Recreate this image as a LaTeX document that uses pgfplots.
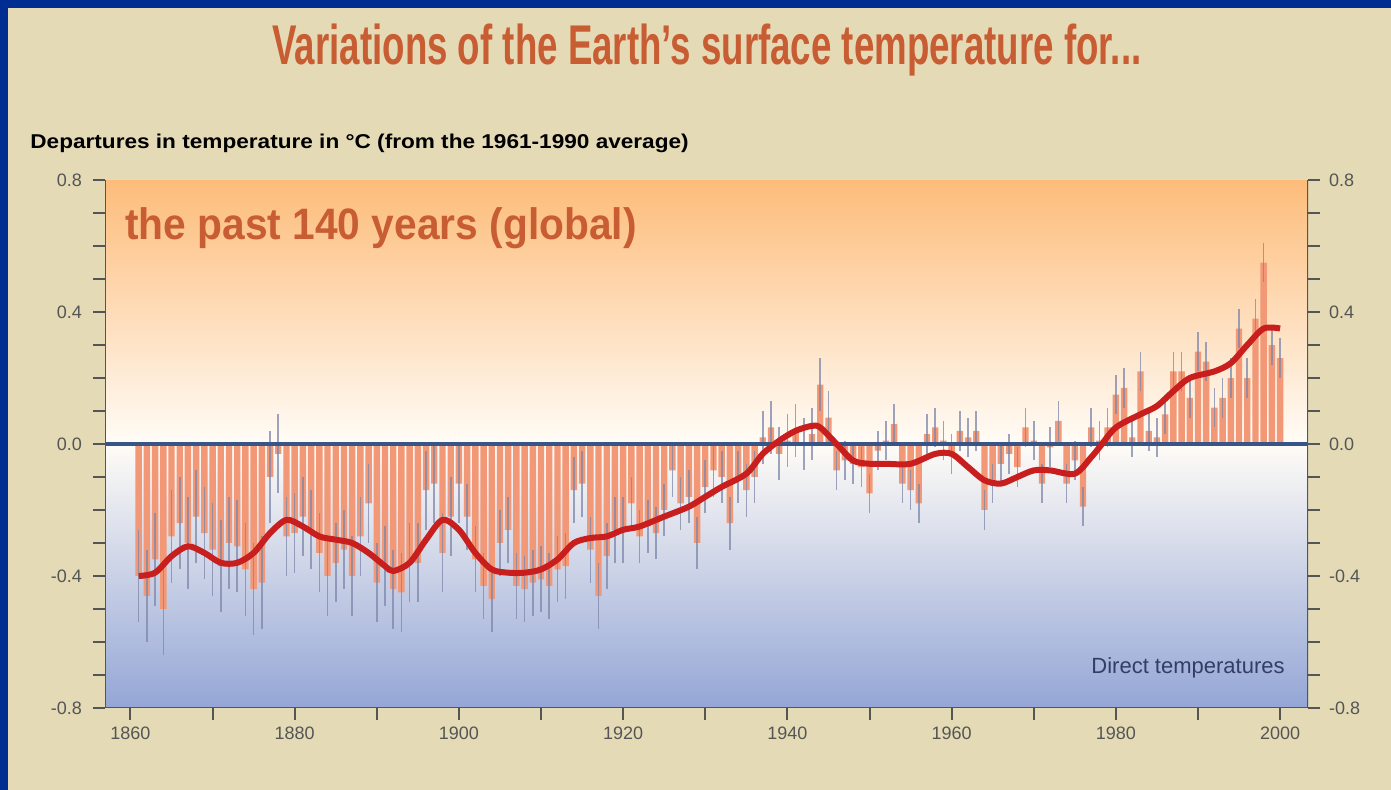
\documentclass[border=0pt]{standalone}
\usepackage{fontspec}
\setmainfont{Liberation Sans}
\usepackage{pgfplots}
\usepackage{pgfplotstable}
\pgfplotsset{compat=1.18}

\definecolor{frameblue}{RGB}{0,45,145}
\definecolor{paper}{RGB}{228,219,182}
\definecolor{bgtop}{RGB}{253,188,122}
\definecolor{bgmid}{RGB}{255,252,247}
\definecolor{bgbot}{RGB}{148,166,214}
\definecolor{barsalmon}{RGB}{243,152,118}
\definecolor{errgray}{RGB}{125,135,170}
\definecolor{smoothred}{RGB}{200,30,30}
\definecolor{zeroblue}{RGB}{55,85,135}
\definecolor{axgray}{RGB}{85,85,85}
\definecolor{titleorange}{RGB}{200,92,50}
\definecolor{notenavy}{RGB}{50,62,100}

% annual departures (deg C, 1961-1990 base) and error half-width
\pgfplotstableread{
year t e
1861 -0.40 0.14
1862 -0.46 0.14
1863 -0.35 0.14
1864 -0.50 0.14
1865 -0.28 0.14
1866 -0.24 0.14
1867 -0.30 0.14
1868 -0.22 0.14
1869 -0.27 0.14
1870 -0.32 0.14
1871 -0.37 0.14
1872 -0.30 0.14
1873 -0.31 0.14
1874 -0.38 0.14
1875 -0.44 0.14
1876 -0.42 0.14
1877 -0.10 0.14
1878 -0.03 0.12
1879 -0.28 0.12
1880 -0.27 0.12
1881 -0.22 0.12
1882 -0.26 0.12
1883 -0.33 0.12
1884 -0.40 0.12
1885 -0.36 0.12
1886 -0.32 0.12
1887 -0.40 0.12
1888 -0.28 0.12
1889 -0.18 0.12
1890 -0.42 0.12
1891 -0.37 0.12
1892 -0.44 0.12
1893 -0.45 0.12
1894 -0.36 0.12
1895 -0.36 0.12
1896 -0.14 0.12
1897 -0.12 0.12
1898 -0.33 0.12
1899 -0.22 0.12
1900 -0.12 0.12
1901 -0.22 0.10
1902 -0.35 0.10
1903 -0.43 0.10
1904 -0.47 0.10
1905 -0.30 0.10
1906 -0.26 0.10
1907 -0.43 0.10
1908 -0.44 0.10
1909 -0.42 0.10
1910 -0.41 0.10
1911 -0.43 0.10
1912 -0.38 0.10
1913 -0.37 0.10
1914 -0.14 0.10
1915 -0.12 0.10
1916 -0.32 0.10
1917 -0.46 0.10
1918 -0.34 0.10
1919 -0.26 0.10
1920 -0.26 0.10
1921 -0.18 0.08
1922 -0.28 0.08
1923 -0.25 0.08
1924 -0.27 0.08
1925 -0.20 0.08
1926 -0.08 0.08
1927 -0.18 0.08
1928 -0.16 0.08
1929 -0.30 0.08
1930 -0.13 0.08
1931 -0.08 0.08
1932 -0.10 0.08
1933 -0.24 0.08
1934 -0.10 0.08
1935 -0.14 0.08
1936 -0.10 0.08
1937 0.02 0.08
1938 0.05 0.08
1939 -0.03 0.08
1940 0.01 0.08
1941 0.04 0.08
1942 0.00 0.08
1943 0.03 0.08
1944 0.18 0.08
1945 0.08 0.08
1946 -0.08 0.06
1947 -0.05 0.06
1948 -0.06 0.06
1949 -0.07 0.06
1950 -0.15 0.06
1951 -0.02 0.06
1952 0.01 0.06
1953 0.06 0.06
1954 -0.12 0.06
1955 -0.14 0.06
1956 -0.18 0.06
1957 0.03 0.06
1958 0.05 0.06
1959 0.01 0.06
1960 -0.03 0.06
1961 0.04 0.06
1962 0.02 0.06
1963 0.04 0.06
1964 -0.20 0.06
1965 -0.12 0.06
1966 -0.06 0.06
1967 -0.03 0.06
1968 -0.07 0.06
1969 0.05 0.06
1970 0.01 0.06
1971 -0.12 0.06
1972 -0.01 0.06
1973 0.07 0.06
1974 -0.12 0.06
1975 -0.05 0.06
1976 -0.19 0.06
1977 0.05 0.06
1978 0.01 0.06
1979 0.05 0.06
1980 0.15 0.06
1981 0.17 0.06
1982 0.02 0.06
1983 0.22 0.06
1984 0.04 0.06
1985 0.02 0.06
1986 0.09 0.06
1987 0.22 0.06
1988 0.22 0.06
1989 0.14 0.06
1990 0.28 0.06
1991 0.25 0.06
1992 0.11 0.06
1993 0.14 0.06
1994 0.20 0.06
1995 0.35 0.06
1996 0.20 0.06
1997 0.38 0.06
1998 0.55 0.06
1999 0.30 0.06
2000 0.26 0.06
}\annual

% smoothed curve
\pgfplotstableread{
year s
1861 -0.40
1863 -0.39
1865 -0.34
1867 -0.31
1869 -0.33
1871 -0.36
1873 -0.36
1875 -0.33
1877 -0.27
1879 -0.23
1881 -0.25
1883 -0.28
1885 -0.29
1887 -0.30
1889 -0.33
1891 -0.37
1892 -0.385
1894 -0.36
1896 -0.29
1898 -0.23
1900 -0.26
1902 -0.33
1904 -0.38
1906 -0.39
1908 -0.39
1910 -0.38
1912 -0.35
1914 -0.30
1916 -0.285
1918 -0.28
1920 -0.26
1922 -0.25
1925 -0.22
1928 -0.19
1930 -0.16
1932 -0.13
1935 -0.09
1937 -0.03
1939 0.01
1941 0.04
1943 0.055
1944 0.05
1946 0.00
1948 -0.05
1950 -0.06
1952 -0.06
1955 -0.06
1958 -0.03
1960 -0.03
1962 -0.07
1964 -0.11
1966 -0.12
1968 -0.10
1970 -0.08
1972 -0.08
1975 -0.09
1977 -0.04
1978 -0.01
1980 0.05
1983 0.09
1985 0.115
1987 0.16
1989 0.20
1992 0.22
1994 0.245
1996 0.30
1998 0.35
2000 0.35
}\smoothed

\begin{document}
\begin{tikzpicture}
\fill[frameblue] (0pt,0pt) rectangle (695.5pt,395pt);
\fill[paper] (4pt,0pt) rectangle (695.5pt,391pt);
\path[use as bounding box] (0pt,0pt) rectangle (695.5pt,395pt);

\pgfplotsset{
  tempframe/.style={
    at={(52.5pt,41pt)}, anchor=south west,
    scale only axis, width=601.5pt, height=264pt,
    xmin=1856.9, xmax=2003.4, ymin=-0.8, ymax=0.8,
    ytick={-0.8,-0.4,0,0.4,0.8},
    /pgf/number format/assume math mode=true,
    tick label style={font=\fontsize{9}{10}\selectfont, text=axgray},
    yticklabel style={/pgf/number format/fixed, /pgf/number format/fixed zerofill, /pgf/number format/precision=1},
  }
}

\begin{axis}[
  tempframe,
  axis background/.style={shade, top color=bgtop, bottom color=bgbot, middle color=bgmid},
  axis line style={draw=none},
  tick align=outside,
  xtick={1860,1880,...,2000},
  minor x tick num=1,
  minor y tick num=3,
  xtick pos=bottom,
  ytick pos=both,
  yticklabel pos=left,
  yticklabel style={xshift=-2pt},
  major tick length=6pt, minor tick length=6pt,
  tick style={line width=1pt, color=axgray},
  xticklabel style={/pgf/number format/1000 sep={}},
]
\addplot[ybar, bar width=0.78, bar shift=0pt, fill=barsalmon, draw=none] table[x=year, y=t] {\annual};
\addplot[draw=none, mark=none, opacity=0.75,
  error bars/.cd, y dir=both, y explicit, error mark=none,
  error bar style={errgray, line width=0.8pt}]
  table[x=year, y=t, y error=e] {\annual};
\addplot[zeroblue, line width=1.6pt] coordinates {(1856.9,0) (2003.4,0)};
\addplot[smoothred, line width=3pt, smooth, tension=0.5] table[x=year, y=s] {\smoothed};
\draw[axgray, line width=1.2pt] (rel axis cs:0,1) -- (rel axis cs:0,0) -- (rel axis cs:1,0) -- (rel axis cs:1,1);
\end{axis}

\begin{axis}[
  tempframe,
  hide x axis,
  axis y line*=right,
  axis line style={draw=none},
  ytick style={draw=none},
  yticklabel style={xshift=7pt},
]
\end{axis}

\node[text=titleorange, font=\bfseries\fontsize{28}{30}\selectfont] at (353.5pt,370pt)
  {\scalebox{0.655}[1]{Variations of the Earth's surface temperature for...}};
\node[anchor=west, font=\bfseries\fontsize{10}{12}\selectfont, inner sep=0pt] at (15pt,323.5pt)
  {\scalebox{1.13}[1]{Departures in temperature in °C (from the 1961-1990 average)}};
\node[anchor=west, text=titleorange, font=\bfseries\fontsize{22}{24}\selectfont, inner sep=0pt] at (62.5pt,281pt)
  {\scalebox{0.925}[1]{the past 140 years (global)}};
\node[anchor=east, text=notenavy, font=\fontsize{11}{13}\selectfont, inner sep=0pt] at (642.5pt,61pt)
  {Direct temperatures};
\end{tikzpicture}
\end{document}
